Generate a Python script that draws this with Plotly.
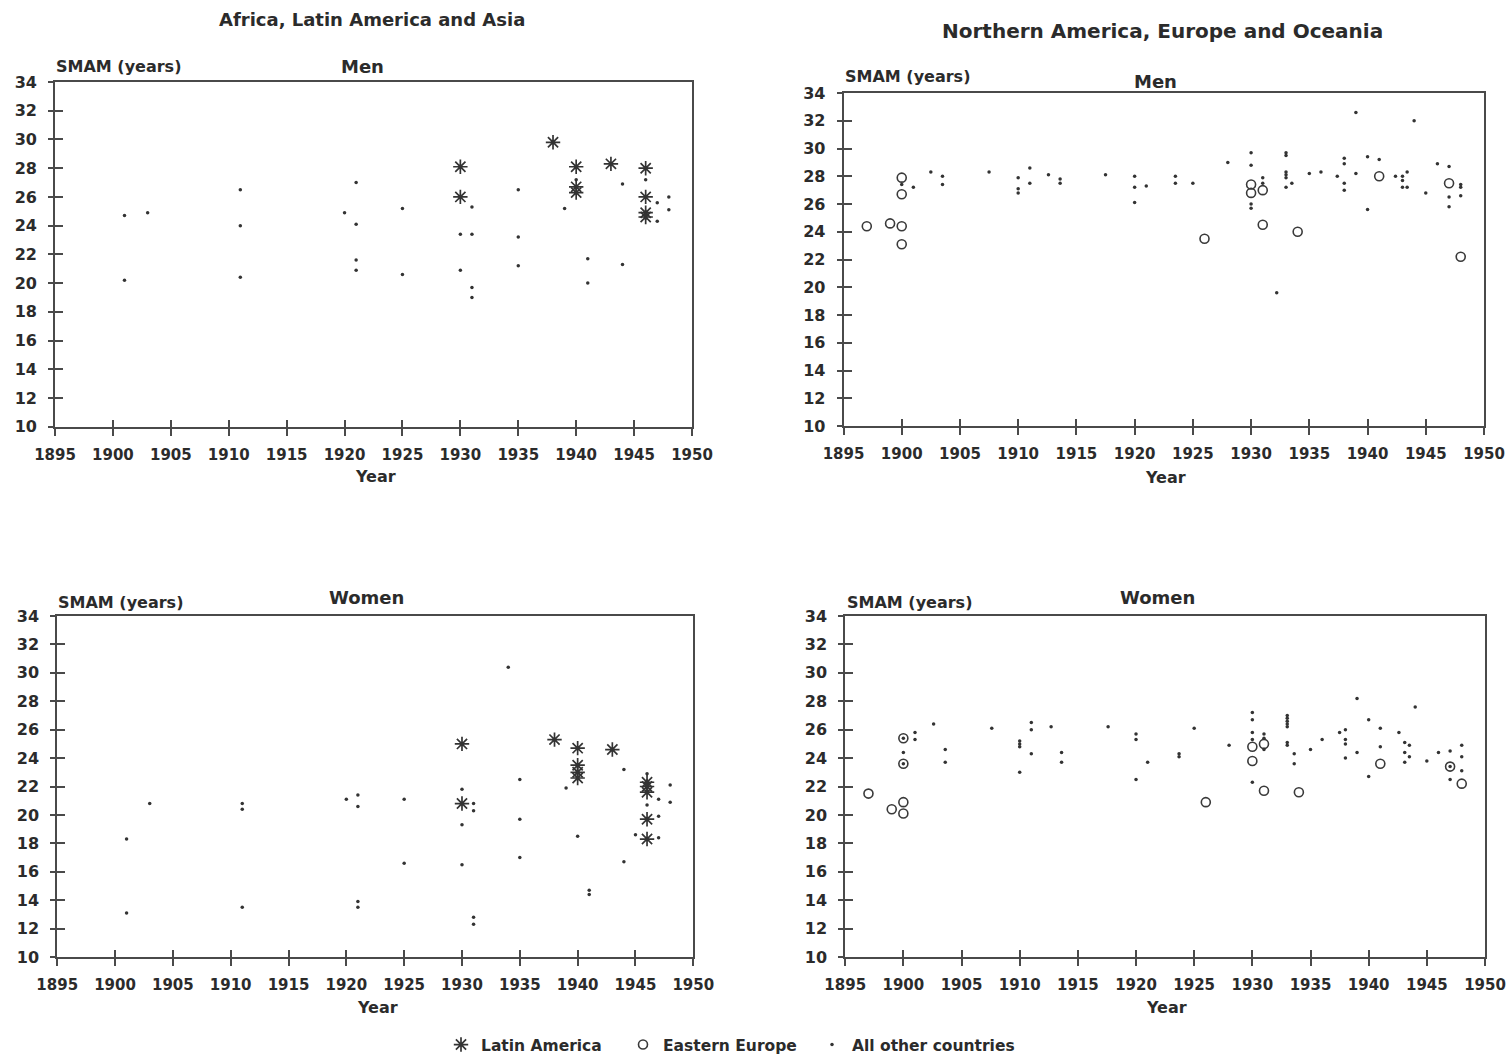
import plotly.graph_objects as go

# ---------------- data ----------------
x_ticks = list(range(1895, 1951, 5))
y_ticks = list(range(10, 35, 2))

# Panel 1: Africa, Latin America and Asia - Men
p1_la_x = [1930, 1930, 1938, 1940, 1940, 1940, 1943, 1946, 1946, 1946, 1946]
p1_la_y = [28.1, 26.0, 29.8, 28.1, 26.7, 26.3, 28.3, 28.0, 26.0, 24.9, 24.6]
p1_ee_x = []
p1_ee_y = []
p1_ot_x = [1901, 1903, 1901, 1911, 1911, 1911, 1920, 1921, 1921, 1921, 1921, 1925, 1925,
           1931, 1930, 1931, 1930, 1931, 1931, 1935, 1935, 1935, 1939, 1940, 1941, 1941,
           1944, 1944, 1946, 1947, 1948, 1947, 1948]
p1_ot_y = [24.7, 24.9, 20.2, 26.5, 24.0, 20.4, 24.9, 27.0, 24.1, 21.6, 20.9, 25.2, 20.6,
           25.3, 23.4, 23.4, 20.9, 19.7, 19.0, 26.5, 23.2, 21.2, 25.2, 27.2, 21.7, 20.0,
           26.9, 21.3, 27.2, 25.6, 26.0, 24.3, 25.1]

# Panel 2: Northern America, Europe and Oceania - Men
p2_la_x = []
p2_la_y = []
p2_ee_x = [1897, 1899, 1900, 1900, 1900, 1900, 1926, 1930, 1930, 1931, 1931, 1934, 1941, 1947, 1948]
p2_ee_y = [24.4, 24.6, 27.9, 26.7, 24.4, 23.1, 23.5, 27.4, 26.8, 27.0, 24.5, 24.0, 28.0, 27.5, 22.2]
p2_ot_x = [1900, 1901, 1902.5, 1903.5, 1903.5, 1907.5, 1910, 1910, 1910, 1911, 1911, 1912.6,
           1913.6, 1913.6, 1917.5, 1920, 1920, 1920, 1921, 1923.5, 1923.5, 1925, 1928,
           1930, 1930, 1930, 1930, 1931, 1931, 1932.2, 1933, 1933, 1933, 1933, 1933, 1933,
           1933.5, 1935, 1936, 1937.4, 1938, 1938, 1938, 1938, 1939, 1939, 1940, 1940, 1941,
           1942.4, 1943, 1943, 1943, 1943.4, 1943.4, 1944, 1945, 1946, 1947, 1947, 1947,
           1948, 1948, 1948]
p2_ot_y = [27.4, 27.2, 28.3, 28.0, 27.4, 28.3, 27.9, 27.1, 26.8, 28.6, 27.5, 28.1,
           27.8, 27.5, 28.1, 28.0, 27.2, 26.1, 27.3, 28.0, 27.5, 27.5, 29.0,
           29.7, 28.8, 26.0, 25.7, 27.9, 27.5, 19.6, 29.7, 29.5, 28.3, 28.1, 27.9, 27.2,
           27.5, 28.2, 28.3, 28.0, 29.3, 28.9, 27.5, 27.0, 32.6, 28.2, 29.4, 25.6, 29.2,
           28.0, 28.0, 27.7, 27.2, 28.3, 27.2, 32.0, 26.8, 28.9, 28.7, 26.5, 25.8,
           27.4, 27.2, 26.6]

# Panel 3: Africa, Latin America and Asia - Women
p3_la_x = [1930, 1930, 1938, 1940, 1940, 1940, 1940, 1943, 1946, 1946, 1946, 1946, 1946]
p3_la_y = [25.0, 20.8, 25.3, 24.7, 23.5, 23.0, 22.6, 24.6, 22.3, 22.0, 21.6, 19.7, 18.3]
p3_ee_x = []
p3_ee_y = []
p3_ot_x = [1901, 1901, 1903, 1911, 1911, 1911, 1920, 1921, 1921, 1921, 1921, 1925, 1925,
           1930, 1930, 1930, 1931, 1931, 1931, 1931, 1934, 1935, 1935, 1935, 1939, 1940,
           1941, 1941, 1944, 1944, 1945, 1946, 1946, 1947, 1947, 1947, 1948, 1948]
p3_ot_y = [18.3, 13.1, 20.8, 20.8, 20.4, 13.5, 21.1, 21.4, 20.6, 13.9, 13.5, 21.1, 16.6,
           21.8, 19.3, 16.5, 20.8, 20.3, 12.8, 12.3, 30.4, 22.5, 19.7, 17.0, 21.9, 18.5,
           14.7, 14.4, 23.2, 16.7, 18.6, 22.9, 20.7, 21.1, 19.9, 18.4, 22.1, 20.9]

# Panel 4: Northern America, Europe and Oceania - Women
p4_la_x = []
p4_la_y = []
p4_ee_x = [1897, 1899, 1900, 1900, 1900, 1900, 1926, 1930, 1930, 1931, 1931, 1934, 1941, 1947, 1948]
p4_ee_y = [21.5, 20.4, 20.9, 20.1, 25.4, 23.6, 20.9, 24.8, 23.8, 25.0, 21.7, 21.6, 23.6, 23.4, 22.2]
p4_ot_x = [1900, 1900, 1900, 1901, 1901, 1902.6, 1903.6, 1903.6, 1907.6, 1910, 1910, 1910, 1910,
           1911, 1911, 1911, 1912.7, 1913.6, 1913.6, 1917.6, 1920, 1920, 1920, 1921, 1923.7,
           1923.7, 1925, 1928, 1930, 1930, 1930, 1930, 1930, 1931, 1931, 1931, 1933, 1933,
           1933, 1933, 1933, 1933, 1933, 1933.6, 1933.6, 1935, 1936, 1937.5, 1938, 1938, 1938,
           1938, 1939, 1939, 1940, 1940, 1941, 1941, 1942.6, 1943.1, 1943.1, 1943.1, 1943.5,
           1943.5, 1944, 1945, 1946, 1947, 1947, 1947, 1948, 1948, 1948]
p4_ot_y = [24.4, 25.4, 23.6, 25.8, 25.3, 26.4, 24.6, 23.7, 26.1, 25.2, 25.0, 24.8, 23.0,
           26.5, 26.0, 24.3, 26.2, 24.4, 23.7, 26.2, 25.7, 25.3, 22.5, 23.7, 24.3,
           24.1, 26.1, 24.9, 27.2, 26.7, 25.8, 25.3, 22.3, 25.7, 25.4, 24.6, 27.0, 26.8,
           26.6, 26.4, 26.2, 25.1, 24.9, 24.3, 23.6, 24.6, 25.3, 25.8, 26.0, 25.3, 25.0,
           24.0, 28.2, 24.4, 26.7, 22.7, 26.1, 24.8, 25.8, 25.1, 24.4, 23.7, 24.9,
           24.1, 27.6, 23.8, 24.4, 24.5, 23.4, 22.5, 24.9, 24.1, 23.1]

panels = [
    (p1_la_x, p1_la_y, p1_ee_x, p1_ee_y, p1_ot_x, p1_ot_y),
    (p2_la_x, p2_la_y, p2_ee_x, p2_ee_y, p2_ot_x, p2_ot_y),
    (p3_la_x, p3_la_y, p3_ee_x, p3_ee_y, p3_ot_x, p3_ot_y),
    (p4_la_x, p4_la_y, p4_ee_x, p4_ee_y, p4_ot_x, p4_ot_y),
]

# ---------------- layout geometry ----------------
W, H = 1512, 1055
def px(x): return x / W
def py(y): return 1 - y / H

domains = [
    ([px(55), px(692)], [py(426.7), py(82)]),
    ([px(843.5), px(1484)], [py(426), py(93)]),
    ([px(57.2), px(693.3)], [py(957), py(616)]),
    ([px(845.2), px(1485)], [py(957), py(616)]),
]

FONT = "DejaVu Sans"
TXT = "#2b2b2b"
AX = "#4a4a4a"

def legend_box(xpix):
    return dict(orientation="h", x=px(xpix), y=py(1045), xanchor="left", yanchor="middle",
                font=dict(family=FONT, size=15.5, color=TXT, weight="bold"),
                bgcolor="rgba(0,0,0,0)", borderwidth=0,
                itemclick=False, itemdoubleclick=False)

fig = go.Figure()
layout = dict(
    template="none",
    width=W, height=H, margin=dict(l=0, r=0, t=0, b=0, pad=0, autoexpand=False),
    paper_bgcolor="white", plot_bgcolor="white",
    font=dict(family=FONT, color=TXT, size=15, weight="bold"),
    showlegend=True,
    legend=legend_box(441),
    legend2=legend_box(623),
    legend3=legend_box(812),
)

for i, ((la_x, la_y, ee_x, ee_y, ot_x, ot_y), (dx, dy)) in enumerate(zip(panels, domains)):
    n = i + 1
    xa = "x" if n == 1 else f"x{n}"
    ya = "y" if n == 1 else f"y{n}"
    on = n + 4
    fig.add_trace(go.Scatter(
        x=la_x, y=la_y, mode="markers", name="Latin America", legendgroup="la",
        showlegend=(n == 1), legend="legend",
        marker=dict(symbol="asterisk-open", size=12, color="#333", line=dict(width=1.7, color="#333")),
        xaxis=xa, yaxis=ya, hoverinfo="skip"))
    fig.add_trace(go.Scatter(
        x=ee_x, y=ee_y, mode="markers", name="Eastern Europe", legendgroup="ee",
        showlegend=(n == 2), legend="legend2",
        marker=dict(symbol="circle-open", size=9, color="#3a3a3a", line=dict(width=1.6, color="#3a3a3a")),
        xaxis=xa, yaxis=ya, hoverinfo="skip"))
    fig.add_trace(go.Scatter(
        x=ot_x, y=ot_y, mode="markers", name="All other countries", legendgroup="ot",
        showlegend=(n == 1), legend="legend3",
        marker=dict(symbol="circle", size=3.5, color="#333"),
        xaxis=xa, yaxis=ya, hoverinfo="skip"))
    # empty trace on overlay axes so the crossing ticks are drawn
    fig.add_trace(go.Scatter(x=[], y=[], xaxis=f"x{on}", yaxis=f"y{on}", showlegend=False,
                             hoverinfo="skip"))

    xkey = "xaxis" if n == 1 else f"xaxis{n}"
    ykey = "yaxis" if n == 1 else f"yaxis{n}"
    layout[xkey] = dict(
        domain=dx, anchor=ya, range=[1895, 1950], tickmode="array", tickvals=x_ticks,
        ticktext=[str(v) for v in x_ticks], ticks="outside", ticklen=7, tickwidth=1.5,
        tickcolor=AX, showline=True, linecolor=AX, linewidth=1.8, mirror=True,
        showgrid=False, zeroline=False, ticklabelstandoff=6, automargin=False,
        tickfont=dict(family=FONT, size=15, color=TXT, weight="bold"))
    layout[ykey] = dict(
        domain=dy, anchor=xa, range=[10, 34], tickmode="array", tickvals=y_ticks,
        ticktext=[str(v) for v in y_ticks], ticks="outside", ticklen=5, tickwidth=1.5,
        tickcolor=AX, showline=True, linecolor=AX, linewidth=1.8, mirror=True,
        showgrid=False, zeroline=False, ticklabelstandoff=8, automargin=False,
        tickfont=dict(family=FONT, size=16, color=TXT, weight="bold"))
    layout[f"xaxis{on}"] = dict(
        overlaying=xa, anchor=f"y{on}", range=[1895, 1950], tickmode="array", tickvals=x_ticks,
        ticks="inside", ticklen=7, tickwidth=1.5, tickcolor=AX, showticklabels=False,
        showline=False, showgrid=False, zeroline=False, automargin=False)
    layout[f"yaxis{on}"] = dict(
        overlaying=ya, anchor=f"x{on}", range=[10, 34], tickmode="array", tickvals=y_ticks,
        ticks="inside", ticklen=8, tickwidth=1.5, tickcolor=AX, showticklabels=False,
        showline=False, showgrid=False, zeroline=False, automargin=False)

def ann(text, x, y, size, xanchor="center"):
    return dict(text=text, x=px(x), y=py(y), xref="paper", yref="paper", showarrow=False,
                xanchor=xanchor, yanchor="middle",
                font=dict(family=FONT, size=size, color=TXT, weight="bold"))

layout["annotations"] = [
    ann("Africa, Latin America and Asia", 372, 20, 18),
    ann("Northern America, Europe and Oceania", 1162, 31, 20),
    ann("SMAM (years)", 54, 67, 16, "left"),
    ann("SMAM (years)", 843, 77, 16, "left"),
    ann("SMAM (years)", 56, 602, 16, "left"),
    ann("SMAM (years)", 845, 602, 16, "left"),
    ann("Men", 362, 67, 18),
    ann("Men", 1155, 81, 18),
    ann("Women", 366, 597, 18),
    ann("Women", 1157, 597, 18),
    ann("Year", 375, 476, 16),
    ann("Year", 1165, 477, 16),
    ann("Year", 377, 1007, 16),
    ann("Year", 1166, 1007, 16),
]

fig.update_layout(**layout)
fig.write_html("out.html")
